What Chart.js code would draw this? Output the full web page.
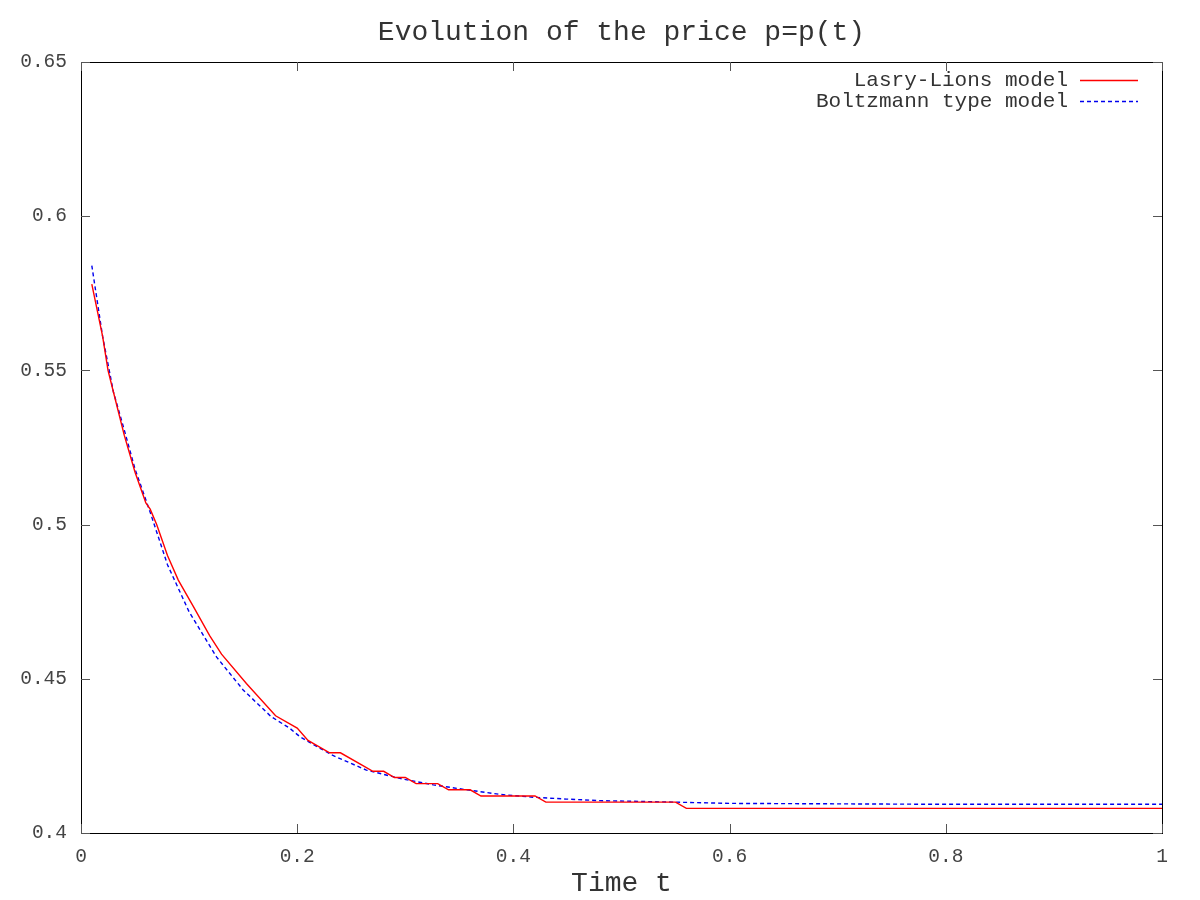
<!DOCTYPE html>
<html lang="en">
<head>
  <meta charset="UTF-8" />
  <title>Evolution of the price p=p(t)</title>
  <script src="https://cdn.jsdelivr.net/npm/chart.js"></script>
  <style>
    html, body { margin: 0; padding: 0; background: #fff; }
    #wrap { width: 1200px; height: 900px; }
  </style>
</head>
<body>
  <div id="wrap"><canvas id="priceChart" width="1200" height="900"></canvas></div>

  <script>
    // series
    const lasryT = [0.01, 0.02, 0.025, 0.03, 0.04, 0.05, 0.06, 0.064, 0.07, 0.08, 0.09, 0.104, 0.119, 0.13,
      0.153, 0.18, 0.20, 0.21, 0.23, 0.24, 0.26, 0.27, 0.28, 0.29, 0.30, 0.31, 0.33, 0.34, 0.36, 0.37,
      0.42, 0.43, 0.55, 0.56, 1.00];
    const lasryP = [0.578, 0.561, 0.550, 0.543, 0.529, 0.517, 0.507, 0.505, 0.500, 0.490, 0.482, 0.4734, 0.464, 0.458,
      0.4485, 0.438, 0.434, 0.430, 0.426, 0.426, 0.422, 0.420, 0.420, 0.418, 0.418, 0.416, 0.416, 0.414, 0.414, 0.412,
      0.412, 0.410, 0.410, 0.408, 0.408];

    const boltzT = [0.01, 0.02, 0.03, 0.04, 0.05, 0.064, 0.08, 0.10, 0.1255, 0.15, 0.176, 0.193, 0.2026, 0.232,
      0.264, 0.295, 0.326, 0.357, 0.388, 0.418, 0.449, 0.48, 0.55, 0.60, 0.80, 1.00];
    const boltzP = [0.584, 0.561, 0.543, 0.5307, 0.518, 0.504, 0.487, 0.4717, 0.457, 0.4464, 0.4377, 0.434, 0.4312, 0.4253,
      0.4204, 0.4177, 0.4156, 0.414, 0.4125, 0.4116, 0.411, 0.4105, 0.410, 0.4096, 0.4093, 0.4093];

    const xTicks = [0, 0.2, 0.4, 0.6, 0.8, 1];
    const yTicks = [0.4, 0.45, 0.5, 0.55, 0.6, 0.65];

    const MONO = '"Liberation Mono", "DejaVu Sans Mono", monospace';

    // gnuplot-like frame: border box, inward ticks on all sides, title, legend
    const gnuFrame = {
      id: 'gnuFrame',
      afterDatasetsDraw(chart) {
        const { ctx, chartArea: a, scales } = chart;
        ctx.save();
        ctx.strokeStyle = '#000';
        ctx.lineWidth = 1;
        ctx.strokeRect(a.left + 0.5, a.top + 0.5, a.right - a.left, a.bottom - a.top);

        ctx.strokeStyle = '#555';
        const len = 9;
        ctx.beginPath();
        xTicks.forEach(v => {
          const px = Math.round(scales.x.getPixelForValue(v)) + 0.5;
          ctx.moveTo(px, a.bottom); ctx.lineTo(px, a.bottom - len);
          ctx.moveTo(px, a.top); ctx.lineTo(px, a.top + len);
        });
        yTicks.forEach(v => {
          const py = Math.round(scales.y.getPixelForValue(v)) + 0.5;
          ctx.moveTo(a.left, py); ctx.lineTo(a.left + len, py);
          ctx.moveTo(a.right, py); ctx.lineTo(a.right - len, py);
        });
        ctx.stroke();

        // title
        ctx.fillStyle = '#333';
        ctx.font = '28px ' + MONO;
        ctx.textAlign = 'center';
        ctx.textBaseline = 'middle';
        ctx.fillText('Evolution of the price p=p(t)', (a.left + a.right) / 2, 33);

        // legend
        ctx.font = '21px ' + MONO;
        ctx.textAlign = 'right';
        chart.data.datasets.forEach((ds, i) => {
          const y = 80 + i * 21;
          ctx.fillStyle = '#333';
          ctx.fillText(ds.label, 1068, y);
          ctx.strokeStyle = ds.borderColor;
          ctx.lineWidth = 1.3;
          ctx.setLineDash(ds.borderDash || []);
          ctx.beginPath();
          ctx.moveTo(1080, y + 0.5); ctx.lineTo(1138, y + 0.5);
          ctx.stroke();
        });
        ctx.restore();
      }
    };

    const ctx = document.getElementById('priceChart').getContext('2d');
    new Chart(ctx, {
      type: 'line',
      data: {
        datasets: [{
          label: 'Lasry-Lions model',
          data: lasryT.map((t, i) => ({ x: t, y: lasryP[i] })),
          borderColor: '#ff0000',
          borderWidth: 1.4,
          pointRadius: 0,
          tension: 0
        }, {
          label: 'Boltzmann type model',
          data: boltzT.map((t, i) => ({ x: t, y: boltzP[i] })),
          borderColor: '#0000ee',
          borderWidth: 1.4,
          borderDash: [4, 3],
          pointRadius: 0,
          tension: 0
        }]
      },
      options: {
        responsive: false,
        animation: false,
        layout: { padding: { top: 62, right: 38, left: 0, bottom: 0 } },
        plugins: {
          legend: { display: false },
          title: { display: false },
          tooltip: { enabled: false }
        },
        scales: {
          x: {
            type: 'linear',
            min: 0, max: 1,
            afterFit: s => { s.height = 67; },
            afterBuildTicks: s => { s.ticks = xTicks.map(v => ({ value: v })); },
            grid: { display: false, drawTicks: false },
            border: { display: false },
            ticks: {
              padding: 12,
              color: '#444',
              font: { family: MONO, size: 19.5 },
              maxRotation: 0,
              callback: v => String(v)
            },
            title: {
              display: true,
              text: 'Time t',
              color: '#333',
              font: { family: MONO, size: 28 },
              padding: { top: 2, bottom: 0 }
            }
          },
          y: {
            type: 'linear',
            min: 0.4, max: 0.65,
            afterFit: s => { s.width = 81; },
            afterBuildTicks: s => { s.ticks = yTicks.map(v => ({ value: v })); },
            grid: { display: false, drawTicks: false },
            border: { display: false },
            ticks: {
              padding: 14,
              color: '#444',
              font: { family: MONO, size: 19.5 },
              callback: v => String(Math.round(v * 100) / 100)
            }
          }
        }
      },
      plugins: [gnuFrame]
    });
  </script>
</body>
</html>
